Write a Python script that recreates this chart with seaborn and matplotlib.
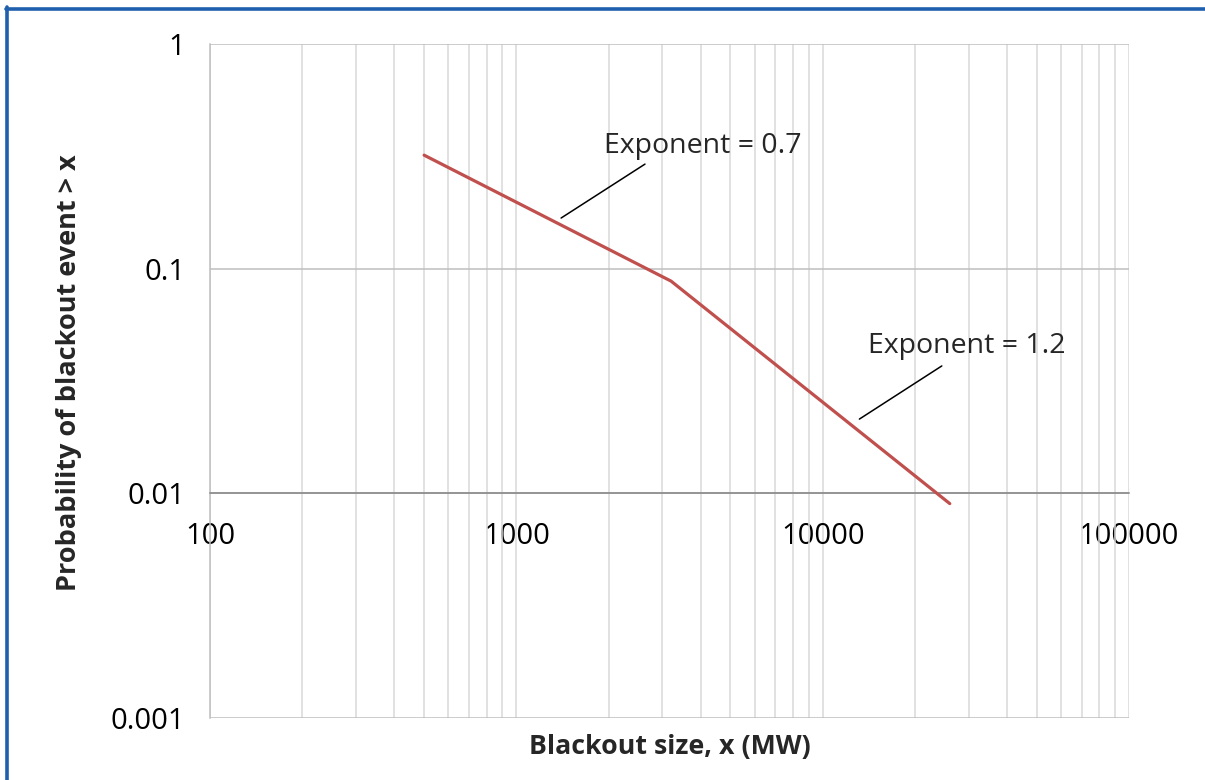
import matplotlib
matplotlib.use("Agg")
import matplotlib.pyplot as plt
from matplotlib.lines import Line2D
from matplotlib.ticker import FixedLocator, LogLocator, NullFormatter, FixedFormatter
import seaborn as sns
import pandas as pd

# Piecewise power-law fit of the blackout size distribution
blackout_size_mw = [500, 3200, 26000]
prob_exceed = [0.32, 0.088, 0.009]

x_ticks = [100, 1000, 10000, 100000]
x_tick_labels = ["100", "1000", "10000", "100000"]
y_ticks = [0.001, 0.01, 0.1, 1]
y_tick_labels = ["0.001", "0.01", "0.1", "1"]

df = pd.DataFrame({"size": blackout_size_mw, "prob": prob_exceed})

sns.set_style("white")
plt.rcParams["font.family"] = ["Open Sans", "DejaVu Sans"]

fig = plt.figure(figsize=(12.05, 7.8), dpi=100)
ax = fig.add_axes([0.1743, 0.0795, 0.7626, 0.8641])

sns.lineplot(data=df, x="size", y="prob", ax=ax, color="#c0504d",
             linewidth=2.3, zorder=5)

ax.set_xscale("log")
ax.set_yscale("log")
ax.set_xlim(100, 100000)
ax.set_ylim(0.001, 1)

ax.xaxis.set_major_locator(FixedLocator(x_ticks))
ax.xaxis.set_major_formatter(FixedFormatter(x_tick_labels))
ax.xaxis.set_minor_locator(LogLocator(base=10, subs=range(2, 10)))
ax.xaxis.set_minor_formatter(NullFormatter())
ax.yaxis.set_major_locator(FixedLocator(y_ticks))
ax.yaxis.set_major_formatter(FixedFormatter(y_tick_labels))
ax.yaxis.set_minor_locator(FixedLocator([]))

# gridlines
ax.grid(True, which="major", axis="x", color="#d9d9d9", linewidth=1.1)
ax.grid(True, which="minor", axis="x", color="#d9d9d9", linewidth=1.1)
ax.grid(True, which="major", axis="y", color="#bfbfbf", linewidth=1.1)

# horizontal axis crosses at 0.01
for side in ["top", "right"]:
    ax.spines[side].set_visible(False)
ax.spines["bottom"].set_position(("data", 0.01))
ax.spines["bottom"].set_color("#868686")
ax.spines["bottom"].set_linewidth(1.1)
ax.spines["bottom"].set_zorder(3)
ax.spines["left"].set_color("#bfbfbf")
ax.spines["left"].set_linewidth(1.1)

ax.tick_params(axis="both", which="both", length=0, labelsize=21,
               colors="#000000")
ax.tick_params(axis="x", pad=21)
ax.tick_params(axis="y", pad=18)

ax.set_xlabel("Blackout size, x (MW)", fontsize=19.3, fontweight="bold",
              labelpad=0)
ax.xaxis.set_label_coords(0.5005, -0.024)
ax.set_ylabel("Probability of blackout event > x", fontsize=19.5,
              fontweight="bold")
ax.yaxis.set_label_coords(-0.139, 0.513)

# exponent annotations with leader lines
ax.plot([1400, 2630], [0.168, 0.292], color="#000000", linewidth=1.1, zorder=6)
ax.text(1932, 0.327, "Exponent = 0.7", fontsize=20.5, ha="left",
        va="baseline", zorder=7)
ax.plot([13180, 24490], [0.0214, 0.0369], color="#000000", linewidth=1.1,
        zorder=6)
ax.text(14060, 0.0421, "Exponent = 1.2", fontsize=20.5, ha="left",
        va="baseline", zorder=7)

# frame accents on the figure edges
fig.add_artist(Line2D([7.5 / 1205, 7.5 / 1205], [0, 1 - 7 / 780],
                      transform=fig.transFigure, color="#1f5fad", linewidth=2.6))
fig.add_artist(Line2D([6 / 1205, 1], [1 - 8.5 / 780, 1 - 8.5 / 780],
                      transform=fig.transFigure, color="#1f5fad", linewidth=2.6))

fig.savefig("out.png", dpi=100, facecolor="white")
